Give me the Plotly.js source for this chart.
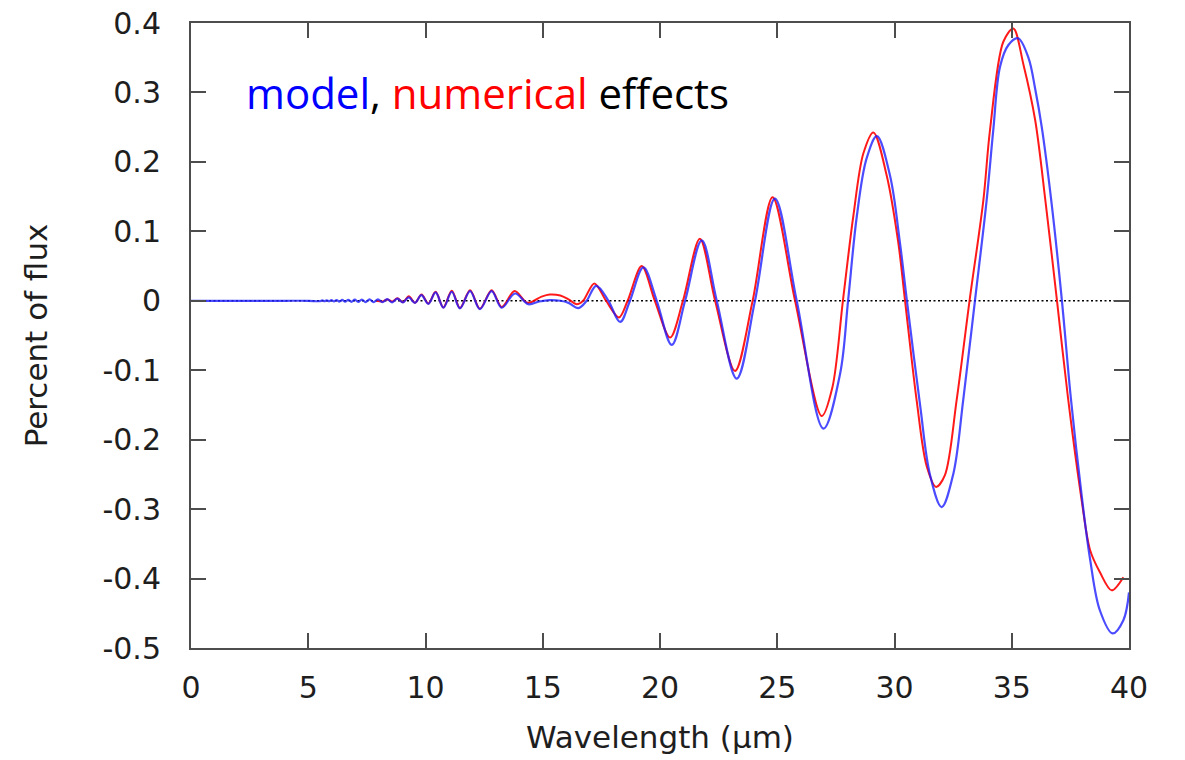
<!DOCTYPE html>
<html>
<head>
<meta charset="utf-8">
<script src="https://cdn.plot.ly/plotly-3.0.1.min.js"></script>
<style>
html,body{margin:0;padding:0;background:#fff;}
#chart{width:1185px;height:760px;}
</style>
</head>
<body>
<div id="chart"></div>
<script>
// ---- data ----
const modelX = [0,1,2,3,4,5,5.507,5.597,5.690,5.787,5.888,5.992,6.100,6.212,6.329,6.450,6.575,6.706,6.841,6.983,7.130,7.284,7.444,7.612,7.788,7.971,8.164,8.366,8.579,8.802,9.037,9.286,9.548,9.826,10.12,10.433,10.765,11.12,11.47,11.90,12.32,12.82,13.25,13.82,14.38,14.85,15.30,15.75,16.10,16.52,16.87,17.28,17.80,18.30,18.72,19.29,19.86,20.50,21.07,21.78,22.42,23.27,24.05,24.90,25.83,26.97,27.68,28.02,28.39,28.81,29.25,29.81,30.23,30.53,31.09,31.51,32.01,32.51,32.93,33.43,33.93,34.21,34.50,34.85,35.27,35.71,36.00,36.28,36.70,37.14,37.52,37.98,38.34,38.76,39.30,39.76,40.0];
const modelY = [0,0,0,0,0,0,-0.0005,0.0006,-0.0006,0.0007,-0.0007,0.0008,-0.0009,0.0010,-0.0011,0.0012,-0.0013,0.0014,-0.0015,0.0016,-0.0017,0.0018,-0.0019,0.0020,-0.0020,0.0021,-0.0021,0.0023,-0.0022,0.0030,-0.0025,0.0050,-0.0030,0.0080,-0.0045,0.0120,-0.0100,0.0130,-0.0110,0.0140,-0.0120,0.0140,-0.0100,0.0105,-0.0050,-0.0010,0.0010,0.0000,-0.0030,-0.0105,0.0,0.0215,0.0,-0.0305,0.0,0.0480,0.0,-0.0635,0.0,0.0870,0.0,-0.1120,0.0,0.1470,0.0,-0.1840,-0.1050,0.0,0.1210,0.2050,0.2370,0.1800,0.0840,0.0,-0.1500,-0.2500,-0.2970,-0.2490,-0.1430,0.0,0.1450,0.2450,0.3370,0.3680,0.3780,0.3500,0.3050,0.2500,0.1400,0.0,-0.1400,-0.2800,-0.3720,-0.4460,-0.4790,-0.4600,-0.4200];

const numX = [7.90,8.17,8.37,8.58,8.80,9.04,9.29,9.55,9.83,10.12,10.43,10.76,11.12,11.47,11.90,12.32,12.82,13.25,13.80,14.36,14.95,15.30,15.75,16.10,16.45,16.72,17.20,17.70,18.25,18.62,19.22,19.78,20.43,20.98,21.70,22.35,23.20,23.95,24.80,25.76,26.90,27.35,27.80,28.24,28.67,29.10,29.67,30.16,30.45,30.95,31.37,31.77,32.15,32.65,33.20,33.79,34.07,34.64,35.07,35.50,36.00,36.45,36.93,37.40,37.98,38.34,38.76,39.26,39.76];
const numY = [0.0,-0.0010,0.0020,-0.0010,0.0035,-0.0020,0.0065,-0.0030,0.0090,-0.0040,0.0130,-0.0095,0.0145,-0.0105,0.0150,-0.0115,0.0150,-0.0090,0.0140,-0.0030,0.0060,0.0090,0.0075,0.0020,-0.0050,0.0,0.0250,0.0,-0.0240,0.0,0.0500,0.0,-0.0530,0.0,0.0895,0.0,-0.1010,0.0,0.1490,0.0,-0.1660,-0.1250,0.0,0.1210,0.2120,0.2425,0.1800,0.0840,0.0,-0.1450,-0.2380,-0.2680,-0.2510,-0.1430,0.0,0.1450,0.2450,0.3730,0.3920,0.3400,0.2600,0.1400,0.0,-0.1400,-0.2870,-0.3590,-0.3910,-0.4170,-0.3980];

const xTickVals = [0,5,10,15,20,25,30,35,40];
const xTickText = ["0","5","10","15","20","25","30","35","40"];
const yTickVals = [-0.5,-0.4,-0.3,-0.2,-0.1,0,0.1,0.2,0.3,0.4];
const yTickText = ["-0.5","-0.4","-0.3","-0.2","-0.1","0","0.1","0.2","0.3","0.4"];

const axisColor = "#4d4d4d";
const tickFont = {family: "DejaVu Sans", size: 30, color: "#1e1e1e"};

const traces = [
  {x: numX, y: numY, type: "scatter", mode: "lines", name: "numerical",
   line: {color: "rgba(255,0,0,0.9)", width: 2, shape: "spline", smoothing: 0.9}, hoverinfo: "skip"},
  {x: modelX, y: modelY, type: "scatter", mode: "lines", name: "model",
   line: {color: "rgba(30,30,255,0.8)", width: 2.2, shape: "spline", smoothing: 1}, hoverinfo: "skip"}
];

const layout = {
  width: 1185, height: 760,
  margin: {l: 191, r: 56, t: 23, b: 112, pad: 0},
  paper_bgcolor: "#ffffff", plot_bgcolor: "#ffffff",
  showlegend: false,
  xaxis: {
    range: [0, 40], tickvals: xTickVals, ticktext: xTickText,
    showgrid: false, zeroline: false, showline: true, linecolor: axisColor, linewidth: 2,
    mirror: "ticks", ticks: "inside", ticklen: 15, tickwidth: 2, tickcolor: axisColor,
    tickfont: tickFont, ticklabelstandoff: 12, automargin: false,
    title: {text: "Wavelength (µm)", font: {family: "DejaVu Sans", size: 31, color: "#1e1e1e"}, standoff: 22}
  },
  yaxis: {
    range: [-0.5, 0.4], tickvals: yTickVals, ticktext: yTickText,
    showgrid: false, zeroline: false, showline: true, linecolor: axisColor, linewidth: 2,
    mirror: "ticks", ticks: "inside", ticklen: 15, tickwidth: 2, tickcolor: axisColor,
    tickfont: tickFont, ticklabelstandoff: 22, automargin: false,
    title: {text: "Percent of flux", font: {family: "DejaVu Sans", size: 31, color: "#1e1e1e"}, standoff: 46}
  },
  shapes: [
    {type: "line", xref: "paper", yref: "y", x0: 0, x1: 1, y0: 0, y1: 0,
     line: {color: "#000000", width: 1.6, dash: "2px,2.5px"}, layer: "below"}
  ],
  annotations: [
    {xref: "paper", yref: "paper", x: 0.0565, y: 0.889, xanchor: "left", yanchor: "middle",
     showarrow: false, align: "left",
     font: {family: "Open Sans", size: 42, color: "#000000"},
     text: '<span style="color:#0000ff">model</span>, <span style="color:#ff0000">numerical</span> effects'}
  ]
};

Plotly.newPlot("chart", traces, layout, {staticPlot: true, displayModeBar: false});
</script>
</body>
</html>
